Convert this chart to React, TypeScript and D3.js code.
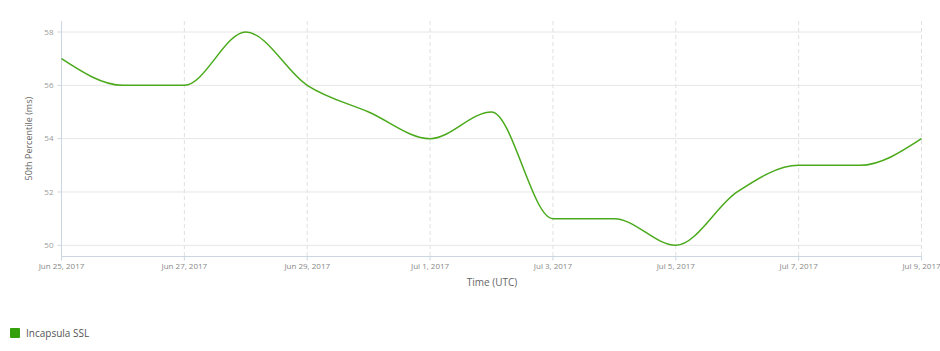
import React from "react";
import * as d3 from "d3";

const dates = ["2017-06-25","2017-06-26","2017-06-27","2017-06-28","2017-06-29","2017-06-30","2017-07-01","2017-07-02","2017-07-03","2017-07-04","2017-07-05","2017-07-06","2017-07-07","2017-07-08","2017-07-09"];
const values = [57, 56, 56, 58, 56, 55, 54, 55, 51, 51, 50, 52, 53, 53, 54];
const yTicks = [50, 52, 54, 56, 58];
const xTickDates = ["2017-06-25","2017-06-27","2017-06-29","2017-07-01","2017-07-03","2017-07-05","2017-07-07","2017-07-09"];
const seriesName = "Incapsula SSL";

const W = 940, H = 351;
const left = 61.5, right = 921.5, top = 21, bottom = 256.5;
const font = "'Open Sans', Lato, sans-serif";

export default function App() {
  const parse = d3.utcParse("%Y-%m-%d");
  const fmt = d3.utcFormat("%b %-d, %Y");
  const x = d3.scaleUtc().domain([parse(dates[0])!, parse(dates[dates.length - 1])!]).range([left, right]);
  const y = d3.scaleLinear().domain([50, 58]).range([245.3, 32]);
  const line = d3.line<number>()
    .x((_, i) => x(parse(dates[i])!))
    .y((v) => y(v))
    .curve(d3.curveMonotoneX);
  return (
    <svg width={W} height={H} style={{ position: "absolute", left: 0, top: 0 }} fontFamily={font}>
      <rect width={W} height={H} fill="#fff" />
      {yTicks.map((t) => (
        <g key={t}>
          <line x1={left} x2={right} y1={y(t)} y2={y(t)} stroke="#e6e6e6" strokeWidth={1} />
          <line x1={left - 4} x2={left} y1={y(t)} y2={y(t)} stroke="#ccd6e0" />
          <text x={left - 8} y={y(t)} dy="0.35em" textAnchor="end" fontSize={8} fill="#999">{t}</text>
        </g>
      ))}
      {xTickDates.map((d, i) => {
        const xx = x(parse(d)!);
        return (
          <g key={d}>
            {i > 0 && <line x1={xx} x2={xx} y1={top} y2={bottom} stroke="#e0e0e0" strokeDasharray="4,3" />}
            <line x1={xx} x2={xx} y1={bottom} y2={bottom + 4} stroke="#ccd6e0" />
            <text x={xx} y={bottom + 12} textAnchor="middle" fontSize={8} fill="#888">{fmt(parse(d)!)}</text>
          </g>
        );
      })}
      <line x1={left} x2={left} y1={top} y2={bottom} stroke="#ccd6e0" />
      <line x1={left} x2={right} y1={bottom} y2={bottom} stroke="#ccd6e0" />
      <path d={line(values) || ""} fill="none" stroke="#4aaa1c" strokeWidth={1.5} />
      <text x={492} y={286} textAnchor="middle" fontSize={10} fill="#666">Time (UTC)</text>
      <text transform={`translate(32,${(y(50) + y(58)) / 2}) rotate(-90)`} textAnchor="middle" fontSize={9} fill="#666">50th Percentile (ms)</text>
      <rect x={10} y={328} width={10} height={10} rx={1} fill="#33a00c" />
      <text x={26} y={337} fontSize={10} fill="#555">{seriesName}</text>
    </svg>
  );
}
